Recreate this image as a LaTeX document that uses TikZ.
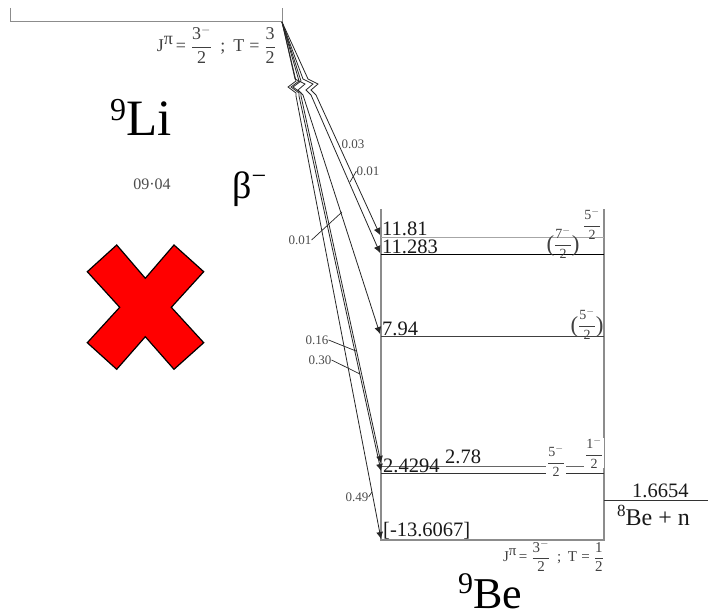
\documentclass[tikz,border=0pt]{standalone}
\usepackage{fontspec}
\setmainfont{Liberation Serif}
\usetikzlibrary{arrows.meta}
\newcommand{\frc}[2]{$\displaystyle\frac{\mbox{#1}}{\mbox{#2}}$}
\newcommand{\pfrc}[2]{\raisebox{-3pt}{\fontsize{23}{23}\selectfont(}\frc{#1}{#2}\raisebox{-3pt}{\fontsize{23}{23}\selectfont)}}
\newcommand{\mns}{$^{-}$}
\newcommand{\jpi}[3]{J\raisebox{#3}{π}\,=\;\frc{#1\mns}{2}\;\,;\;\,T\;=\;\frc{#2}{2}}
\tikzset{
    level/.style={black!80, line width=0.9pt},
    frame/.style={black!45, line width=1.5pt},
    decay/.style={black!85, line width=0.8pt, -{Latex[length=7pt,width=7pt]}},
    leader/.style={black!85, line width=0.7pt},
    small/.style={black!70, inner sep=0pt, font=\fontsize{13}{13}\selectfont},
    energy/.style={black!90, inner sep=0pt, anchor=base west, font=\fontsize{20.5}{20.5}\selectfont},
    spin/.style={black!75, inner sep=0pt, font=\fontsize{14}{14}\selectfont},
    big/.style={inner sep=0pt, anchor=base west}
}
\begin{document}
\begin{tikzpicture}[x=1pt, y=-1pt]
    \useasboundingbox (0,0) rectangle (708,612);
    % Define dimensions
    \def\boxleft{381}
    \def\boxright{604}
    \def\boxtop{209}
    \def\boxbottom{540}
    % Parent level
    \coordinate (parent) at (282,22);
    \draw[frame, line width=1pt] (10,8) -- (10,22) -- (parent) -- (282,8);
    % Daughter levels
    \draw[frame] (\boxleft,\boxtop) -- (\boxleft,\boxbottom) -- (\boxright,\boxbottom) -- (\boxright,\boxtop);
    \foreach \y/\col in {237/black!35, 254/black, 336/black!75, 466/black!60, 473/black!80}
        \draw[level, draw=\col] (\boxleft,\y) -- (\boxright,\y);
    \draw[level] (\boxright,500) -- (708,500);
    % End points of the decays
    \coordinate (e1181) at (380,235);
    \coordinate (e11283) at (380,253);
    \coordinate (e794) at (380,334);
    \coordinate (e278) at (381,463);
    \coordinate (e24294) at (381,471);
    \coordinate (egs) at (381,539);
    % Decays, right hand zigzags
    \foreach \name/\kx in {e1181/308, e11283/303, e794/295}
        \draw[decay] (parent) -- (\kx,79) -- ++(10,5) -- ++(-7,6) -- ++(5,5) -- (\name);
    % Decays, left hand zigzags
    \foreach \name/\kx in {e278/301, e24294/299, egs/296}
        \draw[decay] (parent) -- (\kx,81) -- ++(-8,6) -- ++(8,6) -- (\kx,96) -- (\name);
    % Branching labels
    \node[small] (b003) at (353,144) {0.03};
    \node[small] (b001a) at (368,171) {0.01};
    \node[small] (b001b) at (300,240) {0.01};
    \node[small] (b016) at (317,340) {0.16};
    \node[small] (b030) at (320,360) {0.30};
    \node[small] (b049) at (357,497) {0.49};
    \coordinate (l001a) at (350,182);
    \coordinate (l001b) at (342,212);
    \coordinate (l016) at (356,351);
    \coordinate (l030) at (360,374);
    \coordinate (l049) at (372,492);
    \draw[leader] (b001a.west) -- (l001a);
    \draw[leader] (b001b.east) -- (l001b);
    \draw[leader] (b016.east) -- (l016);
    \draw[leader] (b030.east) -- (l030);
    \draw[leader] (b049.east) -- (l049);
    % Energies
    \node[energy] (t1181) at (382,235) {11.81};
    \node[energy] (t11283) at (382,253) {11.283};
    \node[energy] (t794) at (382,335) {7.94};
    \node[energy] (t24294) at (383,472) {2.4294};
    \node[energy] (t278) at (445,463) {2.78};
    \node[energy] (tgs) at (383,536) {[-13.6067]};
    \node[energy] (tn) at (632,497) {1.6654};
    \node[energy, font=\fontsize{24}{24}\selectfont] (tben) at (617,525) {\raisebox{9pt}{\fontsize{17}{17}\selectfont 8}Be + n};
    % Spins
    \node[spin] (s72) at (563,243) {\pfrc{7\mns}{2}};
    \node[spin] (s52a) at (592,224) {\frc{5\mns}{2}};
    \node[spin] (s52b) at (587,324) {\pfrc{5\mns}{2}};
    \node[spin, fill=white, inner xsep=1pt] (s52c) at (556,461) {\frc{5\mns}{2}};
    \node[spin, fill=white, inner xsep=1pt] (s12) at (594,453) {\frc{1\mns}{2}};
    \node[spin, font=\fontsize{18}{18}\selectfont, anchor=east] (jtop) at (276,45) {\jpi{3}{3}{7pt}};
    \node[spin, font=\fontsize{15}{15}\selectfont, anchor=east] (jbot) at (604,556) {\jpi{3}{1}{6pt}};
    % Nuclei
    \node[big, font=\fontsize{51}{51}\selectfont] (li) at (110,136) {\raisebox{15pt}{\fontsize{32}{32}\selectfont 9}Li};
    \node[big, font=\fontsize{44}{44}\selectfont] (be) at (458,608) {\raisebox{15pt}{\fontsize{30}{30}\selectfont 9}Be};
    \node[big, font=\fontsize{38}{38}\selectfont] (beta) at (232,199) {β\raisebox{14pt}{\fontsize{26}{26}\selectfont −}};
    \node[small, font=\fontsize{16}{16}\selectfont] (date) at (152,184) {09·04};
    % Cross
    \draw[fill=red, draw=black, line width=1.2pt] (116.7,245) -- (145.3,278.3) -- (174,245) -- (203.7,271.7)
        -- (171.3,307.3) -- (203.7,342.7) -- (174,369.3) -- (145.3,336.7) -- (116.7,369.3)
        -- (87.3,342.7) -- (119.7,307.3) -- (87.3,271.7) -- cycle;
\end{tikzpicture}
\end{document}
